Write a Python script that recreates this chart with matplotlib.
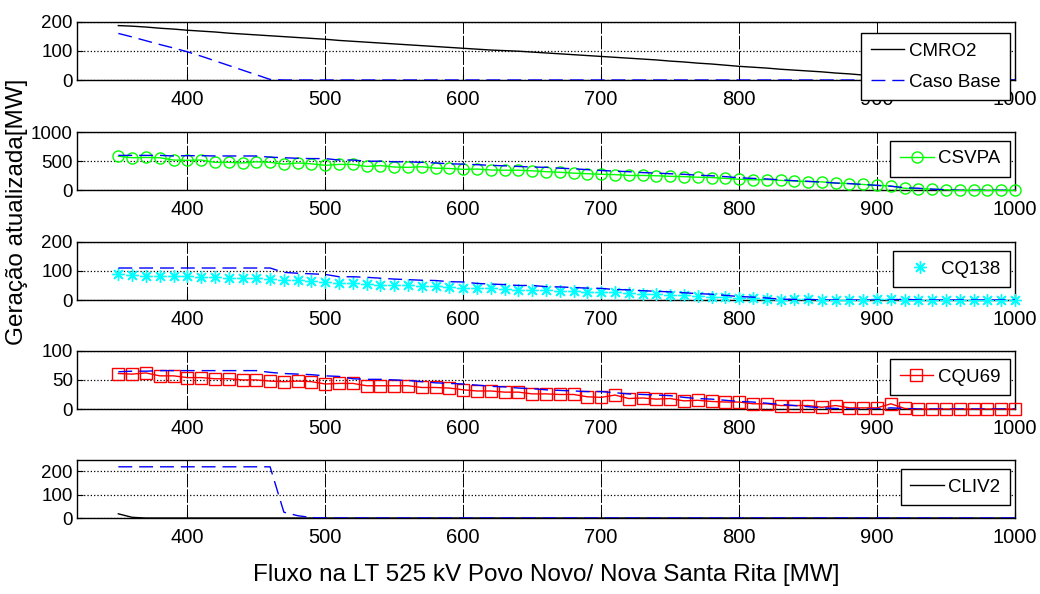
# Geracao atualizada por usina vs fluxo na LT 525 kV Povo Novo / Nova Santa Rita
import matplotlib
matplotlib.use("Agg")
import matplotlib.pyplot as plt
from matplotlib import font_manager

names = {f.name for f in font_manager.fontManager.ttflist}
FONT = "Liberation Sans Narrow" if "Liberation Sans Narrow" in names else "Liberation Sans"
plt.rcParams["font.family"] = [FONT, "DejaVu Sans"]

flux = list(range(350, 1001, 10))

cmro2 = [187, 185, 182, 178, 175, 171, 168, 165, 161, 158, 155, 152, 149, 146, 143,
         140, 136, 133, 130, 127, 124, 121, 118, 115, 112, 109, 106, 103, 101, 99,
         96, 93, 90, 87, 84, 81, 78, 75, 72, 69, 65, 62, 58, 55, 51,
         47, 44, 41, 37, 34, 31, 28, 24, 21, 17, 13, 10, 6, 3, 0,
         0, 0, 0, 0, 0, 0]
base_cmro2 = [160, 148, 135, 122, 110, 97, 82, 66, 50, 34, 18, 2, 0, 0, 0,
              0, 0, 0, 0, 0, 0, 0, 0, 0, 0, 0, 0, 0, 0, 0,
              0, 0, 0, 0, 0, 0, 0, 0, 0, 0, 0, 0, 0, 0, 0,
              0, 0, 0, 0, 0, 0, 0, 0, 0, 0, 0, 0, 0, 0, 0,
              0, 0, 0, 0, 0, 0]

csvpa = [585, 560, 565, 560, 520, 515, 520, 480, 480, 470, 490, 480, 450, 470, 455,
         430, 445, 445, 410, 425, 400, 395, 405, 380, 375, 360, 365, 350, 345, 345,
         335, 320, 310, 295, 285, 275, 270, 255, 255, 250, 240, 235, 225, 220, 205,
         190, 180, 185, 170, 160, 150, 145, 125, 115, 100, 85, 75, 35, 30, 20,
         10, 0, 0, 0, 0, 0]
base_csvpa = [600, 600, 600, 600, 590, 595, 595, 590, 590, 590, 590, 570, 560, 550, 545,
              545, 520, 520, 500, 500, 490, 490, 480, 470, 455, 450, 440, 430, 420, 410,
              400, 395, 380, 370, 355, 340, 330, 320, 305, 295, 285, 275, 260, 250, 235,
              215, 205, 195, 180, 165, 155, 140, 125, 115, 100, 85, 70, 45, 35, 20,
              10, 0, 0, 0, 0, 0]

cq138 = [90, 85, 84, 84, 82, 82, 80, 78, 77, 75, 74, 73, 70, 68, 64,
         62, 60, 57, 56, 53, 53, 50, 47, 47, 44, 43, 42, 40, 38, 35,
         33, 33, 30, 30, 28, 26, 26, 23, 22, 20, 18, 16, 14, 12, 10,
         8, 6, 4, 0, 2, 2, 0, 0, 0, 0, 2, 2, 0, 0, 0,
         0, 0, 0, 0, 0, 0]
base_cq138 = [110, 110, 110, 110, 110, 110, 110, 110, 110, 110, 110, 110, 95, 92, 90,
              88, 80, 80, 78, 75, 72, 70, 68, 67, 63, 62, 57, 55, 53, 50,
              50, 46, 45, 43, 41, 40, 36, 35, 32, 30, 28, 25, 22, 20, 16,
              12, 10, 7, 3, 2, 2, 0, 0, 0, 0, 0, 0, 3, 0, 0,
              0, 0, 0, 0, 0, 0]

cqu69 = [61, 60, 62, 57, 57, 54, 54, 52, 52, 50, 50, 48, 47, 48, 47,
         43, 44, 44, 40, 40, 40, 40, 37, 37, 36, 33, 31, 31, 29, 29,
         26, 26, 25, 25, 21, 20, 24, 18, 19, 17, 18, 14, 15, 13, 12,
         12, 9, 9, 6, 6, 6, 3, 6, 2, 2, 2, 9, 1, 0, 0,
         0, 0, 0, 0, 0, 0]
base_cqu69 = [64, 65, 65, 66, 66, 66, 66, 66, 66, 66, 66, 63, 61, 60, 59,
              57, 56, 52, 51, 51, 50, 49, 47, 45, 44, 43, 41, 39, 38, 36,
              35, 33, 32, 31, 30, 30, 28, 26, 25, 24, 23, 20, 18, 17, 15,
              13, 12, 10, 8, 6, 4, 2, 1, 0, 0, 0, 2, 1, 0, 0,
              0, 0, 0, 0, 0, 0]

cliv2 = [18, 3, 0, 0, 0, 0, 0, 0, 0, 0, 0, 0, 0, 0, 0,
         0, 0, 0, 0, 0, 0, 0, 0, 0, 0, 0, 0, 0, 0, 0,
         0, 0, 0, 0, 0, 0, 0, 0, 0, 0, 0, 0, 0, 0, 0,
         0, 0, 0, 0, 0, 0, 0, 0, 0, 0, 0, 0, 0, 0, 0,
         0, 0, 0, 0, 0, 0]
base_cliv2 = [220, 220, 220, 220, 220, 220, 220, 220, 220, 220, 220, 220, 25, 10, 2,
              0, 0, 0, 0, 0, 0, 0, 0, 0, 0, 0, 0, 0, 0, 0,
              0, 0, 0, 0, 0, 0, 0, 0, 0, 0, 0, 0, 0, 0, 0,
              0, 0, 0, 0, 0, 0, 0, 0, 0, 0, 0, 0, 0, 0, 0,
              0, 0, 0, 0, 0, 0]

panels = [
    ("CMRO2", cmro2, base_cmro2, dict(color="black", ls="-", marker=None, ms=8), (0, 200), [0, 100, 200]),
    ("CSVPA", csvpa, base_csvpa, dict(color="#00ff00", ls="-", marker="o", ms=8), (0, 1000), [0, 500, 1000]),
    ("CQ138", cq138, base_cq138, dict(color="cyan", ls="none", marker=(8, 2, 0), ms=9), (0, 200), [0, 100, 200]),
    ("CQU69", cqu69, base_cqu69, dict(color="red", ls="-", marker="s", ms=8), (0, 100), [0, 50, 100]),
    ("CLIV2", cliv2, base_cliv2, dict(color="black", ls="-", marker=None, ms=8), (0, 250), [0, 100, 200]),
]

# layout (figure fractions)
bottoms = [0.8653, 0.6796, 0.4949, 0.3114, 0.1279]
leg_tops = [0.9444, 0.763, 0.5774, 0.3951, 0.2104]

fig = plt.figure(figsize=(10.4, 5.94), dpi=100)

for i, (name, vals, base, st, ylim, yticks) in enumerate(panels):
    ax = fig.add_axes([0.074, bottoms[i], 0.902, 0.098])
    ax.plot(flux, vals, color=st["color"], linestyle=st["ls"], marker=st["marker"],
            markersize=st["ms"], markerfacecolor="none",
            markeredgewidth=1.0, linewidth=1.0, clip_on=False, zorder=3, label=name)
    ax.plot(flux, base, color="blue", linestyle="--", dashes=(10, 5), linewidth=1.0,
            zorder=4, label="Caso Base")
    ax.set_xlim(320, 1000)
    ax.set_ylim(*ylim)
    ax.set_yticks(yticks)
    ax.set_xticks(range(400, 1001, 100))
    ax.tick_params(direction="in", length=4, width=0.8, labelsize=13.5, pad=3)
    ax.tick_params(axis="x", labelsize=14.5, pad=7)
    ax.yaxis.grid(True, linestyle=":", color="black", linewidth=0.9)
    ax.xaxis.grid(True, linestyle=(0, (14, 2)), color="black", linewidth=0.7)
    for s in ax.spines.values():
        s.set_linewidth(1.0)
    handles, labels = ax.get_legend_handles_labels()
    if i > 0:
        handles, labels = handles[:1], labels[:1]
    leg = ax.legend(handles, labels, loc="upper right",
                    bbox_to_anchor=(0.971, leg_tops[i]), bbox_transform=fig.transFigure,
                    fontsize=13.5, frameon=True, fancybox=False, framealpha=1,
                    edgecolor="black", borderaxespad=0, handlelength=1.8,
                    handletextpad=0.25, borderpad=0.5, labelspacing=0.75)
    leg.get_frame().set_linewidth(1.0)
    leg.set_zorder(10)

fig.text(0.016, 0.643, "Geração atualizada[MW]", rotation=90, ha="center", va="center",
         fontsize=17.5)
fig.text(0.525, 0.032, "Fluxo na LT 525 kV Povo Novo/ Nova Santa Rita [MW]",
         ha="center", va="center", fontsize=17.5)

fig.savefig("out.png", dpi=100)
